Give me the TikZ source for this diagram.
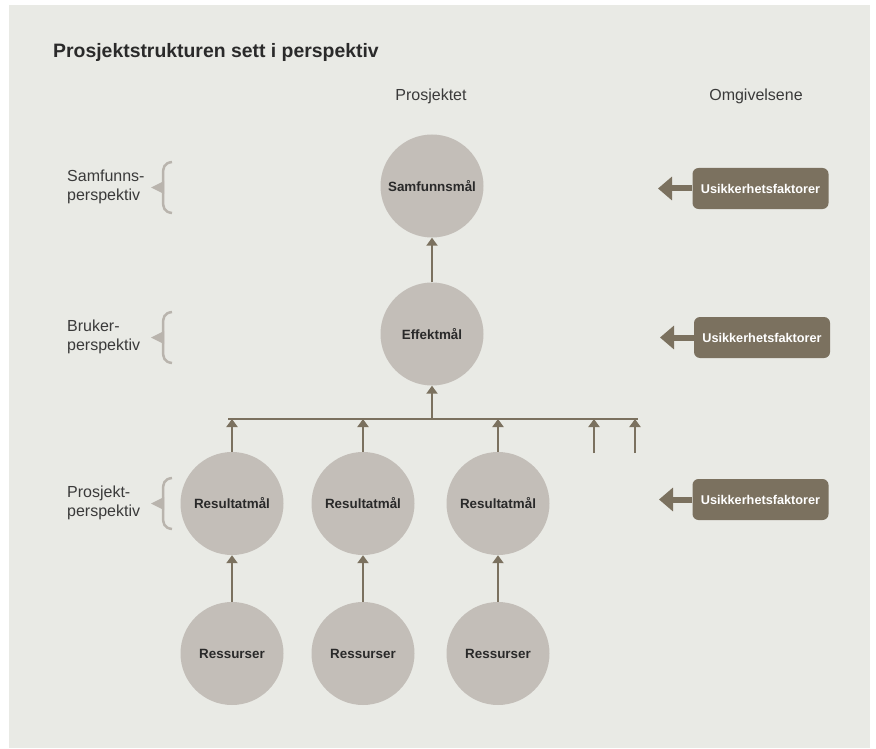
\documentclass[tikz,border=0pt]{standalone}
\usepackage{fontspec}
\setmainfont{Liberation Sans}
\usetikzlibrary{arrows.meta}
\definecolor{panel}{HTML}{E9EAE5}
\definecolor{circfill}{HTML}{C3BEB8}
\definecolor{brownc}{HTML}{7B715F}
\definecolor{bracec}{HTML}{B9B4AD}
\definecolor{txtdark}{HTML}{2A2A2A}
\definecolor{lbltxt}{HTML}{3A3A3A}
\tikzset{
  circ/.style={circle, fill=circfill, minimum size=103pt, inner sep=0pt,
    text=txtdark, font=\bfseries\fontsize{13.4}{15}\selectfont},
  arr/.style={draw=brownc, line width=2.8pt, -{Triangle[width=11pt,length=8pt]}},
  barline/.style={draw=brownc, line width=2.8pt},
  bigarr/.style={draw=brownc, line width=6pt, -{Triangle[width=23pt,length=14pt]}},
  ubox/.style={rectangle, rounded corners=6pt, fill=brownc, minimum width=136pt,
    minimum height=41pt, inner sep=0pt, text=white, font=\bfseries\fontsize{12.7}{15}\selectfont},
  lbl/.style={text=lbltxt, font=\fontsize{16}{18.5}\selectfont, inner sep=0pt},
  sidelbl/.style={lbl, anchor=west, align=left},
  pbrace/.pic={
    \draw[draw=bracec, line width=2.5pt] (9,-25.5) .. controls (1,-24.5) and (0,-20) .. (0,-13)
      -- (0,13) .. controls (0,20) and (1,24.5) .. (9,25.5);
    \fill[bracec] (-12,0) -- (1,-6.5) -- (1,6.5) -- cycle;
  }
}
\begin{document}
\begin{tikzpicture}[x=1pt,y=-1pt]
\useasboundingbox (0,0) rectangle (876,749);
\fill[white] (0,0) rectangle (876,749);
\fill[panel] (9,5) rectangle (870,748);

% title
\node[anchor=base west, inner sep=0pt, text=txtdark, font=\bfseries\fontsize{19.4}{22}\selectfont] (title) at (53,57.5) {Prosjektstrukturen sett i perspektiv};

% column headers
\node[lbl] (hproj) at (431,96) {Prosjektet};
\node[lbl] (homg) at (756,96) {Omgivelsene};

% side labels
\node[sidelbl] (lsam) at (67,187) {Samfunns-\\perspektiv};
\node[sidelbl] (lbru) at (67,337) {Bruker-\\perspektiv};
\node[sidelbl] (lpro) at (67,503) {Prosjekt-\\perspektiv};
\pic at (163,187.5) {pbrace};
\pic at (163,337.5) {pbrace};
\pic at (163,503.5) {pbrace};

% circles
\node[circ] (sam) at (432,186) {Samfunnsmål};
\node[circ] (eff) at (432,334) {Effektmål};
\node[circ] (r1) at (232,503.5) {Resultatmål};
\node[circ] (r2) at (363,503.5) {Resultatmål};
\node[circ] (r3) at (498,503.5) {Resultatmål};
\node[circ] (s1) at (232,653.5) {Ressurser};
\node[circ] (s2) at (363,653.5) {Ressurser};
\node[circ] (s3) at (498,653.5) {Ressurser};

% bar
\coordinate (barL) at (228,419);
\coordinate (barR) at (638,419);
\draw[barline] (barL) -- (barR);
\coordinate (x1) at (594,453);
\coordinate (x2) at (635,453);

% arrows
\draw[arr] (eff.north) -- (sam.south);
\draw[arr] (eff.south |- barL) -- (eff.south);
\draw[arr] (r1.north) -- (r1.north |- barL);
\draw[arr] (r2.north) -- (r2.north |- barL);
\draw[arr] (r3.north) -- (r3.north |- barL);
\draw[arr] (x1) -- (x1 |- barL);
\draw[arr] (x2) -- (x2 |- barL);
\draw[arr] (s1.north) -- (r1.south);
\draw[arr] (s2.north) -- (r2.south);
\draw[arr] (s3.north) -- (r3.south);

% uncertainty boxes
\node[ubox] (u1) at (760.5,188.5) {Usikkerhetsfaktorer};
\node[ubox] (u2) at (762,337.5) {Usikkerhetsfaktorer};
\node[ubox] (u3) at (760.5,499.5) {Usikkerhetsfaktorer};
\coordinate (t1) at (658,188.5);
\coordinate (t2) at (660,337.5);
\coordinate (t3) at (659,499.5);
\draw[bigarr] (u1.west) -- (t1);
\draw[bigarr] (u2.west) -- (t2);
\draw[bigarr] (u3.west) -- (t3);
\end{tikzpicture}
\end{document}
